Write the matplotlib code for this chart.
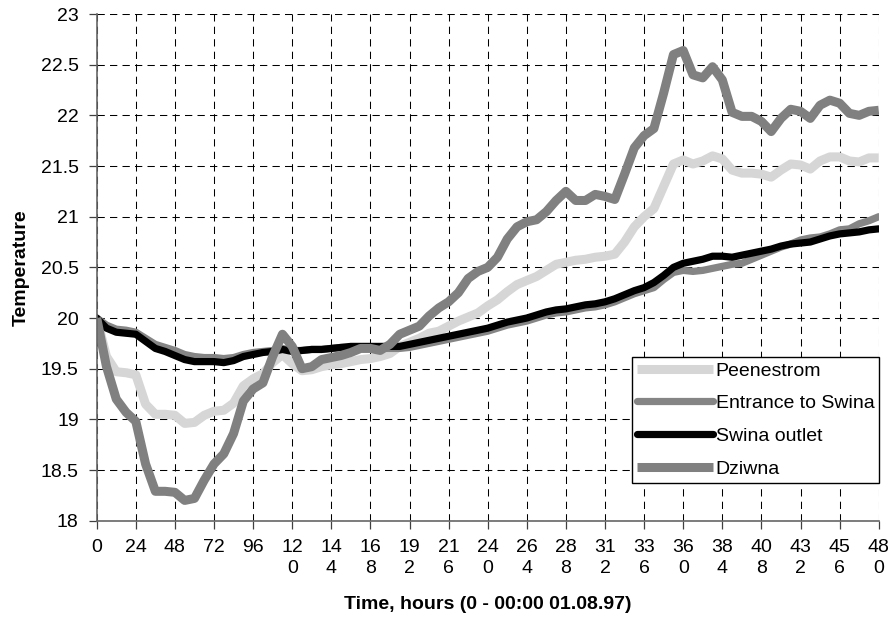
import numpy as np
import matplotlib
matplotlib.use("Agg")
import matplotlib.pyplot as plt

plt.rcParams['font.family'] = ['Liberation Sans', 'DejaVu Sans']

# hours since 00:00 01.08.97, every 6 hours
hours = np.arange(0, 481, 6)

peenestrom = [20.0, 19.62, 19.47, 19.46, 19.44, 19.15, 19.05, 19.05, 19.04, 18.96,
              18.97, 19.04, 19.08, 19.09, 19.16, 19.33, 19.4, 19.45, 19.56, 19.64,
              19.55, 19.48, 19.49, 19.52, 19.54, 19.55, 19.57, 19.59, 19.6, 19.62,
              19.65, 19.72, 19.76, 19.8, 19.85, 19.87, 19.92, 19.97, 20.01, 20.05,
              20.12, 20.18, 20.26, 20.33, 20.37, 20.41, 20.47, 20.53, 20.55, 20.57,
              20.58, 20.6, 20.61, 20.63, 20.75, 20.9, 21.0, 21.08, 21.3, 21.52,
              21.56, 21.52, 21.55, 21.6, 21.57, 21.46, 21.43, 21.43, 21.42, 21.39,
              21.46, 21.52, 21.51, 21.47, 21.55, 21.59, 21.59, 21.55, 21.54, 21.58,
              21.58]

entrance_swina = [20.0, 19.93, 19.89, 19.88, 19.86, 19.8, 19.74, 19.71, 19.68, 19.64,
                  19.62, 19.61, 19.61, 19.6, 19.61, 19.64, 19.66, 19.67, 19.68, 19.7,
                  19.68, 19.68, 19.69, 19.69, 19.7, 19.71, 19.71, 19.71, 19.71, 19.7,
                  19.7, 19.7, 19.71, 19.73, 19.75, 19.77, 19.79, 19.81, 19.83, 19.85,
                  19.87, 19.9, 19.93, 19.95, 19.97, 20.0, 20.03, 20.05, 20.06, 20.08,
                  20.1, 20.11, 20.13, 20.16, 20.2, 20.24, 20.27, 20.3, 20.38, 20.45,
                  20.47, 20.46, 20.47, 20.49, 20.51, 20.53, 20.54, 20.58, 20.62, 20.66,
                  20.7, 20.73, 20.77, 20.79, 20.8, 20.83, 20.87, 20.88, 20.93, 20.96,
                  21.0]

swina_outlet = [20.0, 19.9, 19.86, 19.85, 19.84, 19.77, 19.7, 19.67, 19.63, 19.59,
                19.57, 19.57, 19.57, 19.56, 19.58, 19.62, 19.64, 19.66, 19.67, 19.69,
                19.67, 19.68, 19.69, 19.69, 19.7, 19.71, 19.72, 19.72, 19.72, 19.72,
                19.72, 19.72, 19.74, 19.76, 19.78, 19.8, 19.82, 19.84, 19.86, 19.88,
                19.9, 19.93, 19.96, 19.98, 20.0, 20.03, 20.06, 20.08, 20.09, 20.11,
                20.13, 20.14, 20.16, 20.19, 20.23, 20.27, 20.3, 20.35, 20.42, 20.5,
                20.54, 20.56, 20.58, 20.61, 20.61, 20.6, 20.62, 20.64, 20.66, 20.68,
                20.71, 20.73, 20.74, 20.75, 20.78, 20.81, 20.83, 20.84, 20.85, 20.87,
                20.88]

dziwna = [20.0, 19.52, 19.2, 19.07, 18.98, 18.56, 18.29, 18.29, 18.28, 18.2,
          18.22, 18.4, 18.56, 18.66, 18.86, 19.18, 19.3, 19.36, 19.62, 19.84,
          19.72, 19.5, 19.52, 19.59, 19.61, 19.63, 19.66, 19.7, 19.7, 19.68,
          19.74, 19.84, 19.88, 19.92, 20.02, 20.1, 20.16, 20.25, 20.39, 20.46,
          20.5, 20.6, 20.78, 20.9, 20.95, 20.97, 21.05, 21.16, 21.25, 21.16,
          21.16, 21.22, 21.2, 21.17, 21.42, 21.68, 21.8, 21.87, 22.22, 22.6,
          22.64, 22.4, 22.37, 22.48, 22.35, 22.03, 21.99, 21.99, 21.94, 21.84,
          21.97, 22.06, 22.04, 21.97, 22.1, 22.15, 22.12, 22.02, 22.0, 22.04,
          22.05]

xticks = np.arange(0, 481, 24)
xtick_labels = ['0', '24', '48', '72', '96', '12\n0', '14\n4', '16\n8', '19\n2', '21\n6',
                '24\n0', '26\n4', '28\n8', '31\n2', '33\n6', '36\n0', '38\n4', '40\n8',
                '43\n2', '45\n6', '48\n0']
yticks = np.arange(18, 23.01, 0.5)
ytick_labels = ['18', '18.5', '19', '19.5', '20', '20.5', '21', '21.5', '22', '22.5', '23']

fig = plt.figure(figsize=(8.93, 6.23), dpi=100)
ax = fig.add_axes([0.1083, 0.1642, 0.8757, 0.8133])

ax.plot(hours, peenestrom, color='#d6d6d6', lw=6.5, solid_capstyle='butt',
        solid_joinstyle='round', label='Peenestrom')
ax.plot(hours, entrance_swina, color='#858585', lw=5.2, solid_capstyle='round',
        solid_joinstyle='round', label='Entrance to Swina')
ax.plot(hours, swina_outlet, color='black', lw=5.2, solid_capstyle='round',
        solid_joinstyle='round', label='Swina outlet')
ax.plot(hours, dziwna, color='#808080', lw=6.5, solid_capstyle='butt',
        solid_joinstyle='round', label='Dziwna')

ax.set_xlim(0, 480)
ax.set_ylim(18, 23)
ax.set_xticks(xticks)
ax.set_xticklabels(xtick_labels)
ax.set_yticks(yticks)
ax.set_yticklabels(ytick_labels)
for t in ax.get_xticklabels():
    t.set_linespacing(1.3)

ax.grid(True, color='black', linestyle=(0, (7, 5)), lw=0.75)
ax.set_axisbelow(True)
ax.tick_params(axis='both', direction='out', length=6, width=0.9, color='#404040',
               labelsize=14, pad=7)
for side in ['top', 'right']:
    ax.spines[side].set_visible(False)
for side in ['left', 'bottom']:
    ax.spines[side].set_color('#666666')
    ax.spines[side].set_linewidth(1.2)

ax.set_xlabel('Time, hours (0 - 00:00 01.08.97)', fontsize=14, fontweight='bold', labelpad=14)
ax.set_ylabel('Temperature', fontsize=14, fontweight='bold', labelpad=8)

leg = ax.legend(loc='upper left', bbox_to_anchor=(0.6845, 0.323), fontsize=14,
                frameon=True, fancybox=False, borderaxespad=0, borderpad=0.25,
                handlelength=3.9, handletextpad=0.15, labelspacing=0.78)
leg.get_frame().set_edgecolor('black')
leg.get_frame().set_linewidth(1.0)
leg.get_frame().set_alpha(1)

fig.savefig('out.png', dpi=100)
